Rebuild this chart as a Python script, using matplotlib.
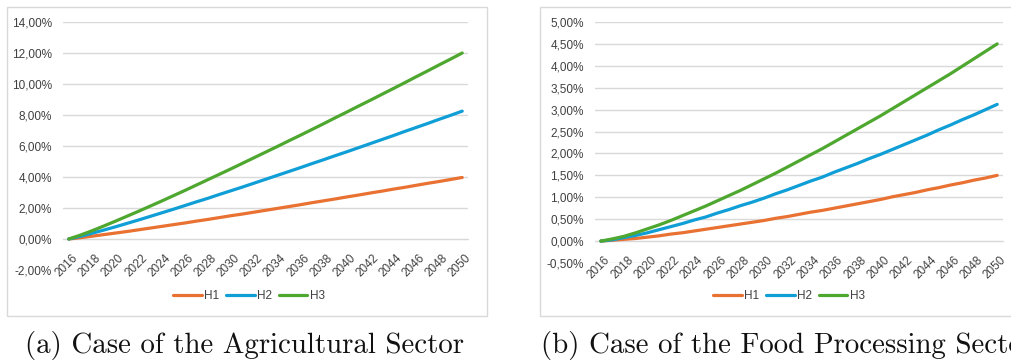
import matplotlib
matplotlib.use("Agg")
import matplotlib.pyplot as plt
import matplotlib.transforms as mtransforms
from matplotlib.patches import Rectangle
from matplotlib.ticker import FuncFormatter

years = list(range(2016, 2051))

# Agricultural sector (percent)
agri_h1 = [0.00, 0.08, 0.18, 0.28, 0.38, 0.48, 0.59, 0.70, 0.81, 0.92, 1.03, 1.15, 1.26, 1.38, 1.50,
           1.61, 1.73, 1.85, 1.97, 2.09, 2.21, 2.34, 2.46, 2.58, 2.71, 2.83, 2.96, 3.08, 3.21, 3.33,
           3.46, 3.59, 3.71, 3.84, 3.97]
agri_h2 = [0.00, 0.17, 0.37, 0.57, 0.78, 1.00, 1.22, 1.45, 1.68, 1.91, 2.15, 2.39, 2.62, 2.87, 3.11,
           3.35, 3.60, 3.85, 4.10, 4.35, 4.60, 4.86, 5.11, 5.37, 5.62, 5.88, 6.14, 6.40, 6.66, 6.93,
           7.19, 7.45, 7.72, 7.98, 8.25]
agri_h3 = [0.00, 0.25, 0.53, 0.83, 1.14, 1.46, 1.78, 2.11, 2.44, 2.78, 3.12, 3.47, 3.82, 4.17, 4.52,
           4.88, 5.24, 5.60, 5.96, 6.33, 6.69, 7.06, 7.43, 7.81, 8.18, 8.56, 8.93, 9.31, 9.69, 10.07,
           10.46, 10.84, 11.23, 11.61, 12.00]

# Food processing sector (percent)
food_h1 = [0.00, 0.02, 0.04, 0.06, 0.09, 0.12, 0.16, 0.19, 0.23, 0.27, 0.31, 0.35, 0.39, 0.43, 0.47,
           0.52, 0.56, 0.61, 0.66, 0.70, 0.75, 0.80, 0.85, 0.90, 0.95, 1.01, 1.06, 1.11, 1.17, 1.22,
           1.28, 1.33, 1.39, 1.44, 1.50]
food_h2 = [0.00, 0.03, 0.08, 0.13, 0.19, 0.26, 0.33, 0.40, 0.48, 0.55, 0.64, 0.72, 0.81, 0.89, 0.98,
           1.08, 1.17, 1.27, 1.37, 1.46, 1.57, 1.67, 1.77, 1.88, 1.98, 2.09, 2.20, 2.31, 2.42, 2.54,
           2.65, 2.77, 2.88, 3.00, 3.12]
food_h3 = [0.00, 0.05, 0.11, 0.19, 0.28, 0.37, 0.47, 0.58, 0.69, 0.80, 0.92, 1.04, 1.16, 1.29, 1.42,
           1.55, 1.69, 1.83, 1.97, 2.11, 2.26, 2.41, 2.56, 2.71, 2.86, 3.02, 3.18, 3.34, 3.50, 3.66,
           3.82, 3.99, 4.16, 4.33, 4.50]

series_names = ["H1", "H2", "H3"]
colors = ["#E97132", "#0F9ED5", "#4EA72E"]
grid_col = "#D9D9D9"
text_col = "#404040"
tick_font = ["Liberation Sans", "DejaVu Sans"]

W, H = 1011, 362
fig = plt.figure(figsize=(W / 100, H / 100), dpi=100)


def px_axes(x0, y0, x1, y1):
    # pixel box (top-left origin) -> figure axes
    return fig.add_axes([x0 / W, 1 - y1 / H, (x1 - x0) / W, (y1 - y0) / H])


def pct(v, _):
    return f"{v:.2f}%".replace(".", ",")


def draw_chart(frame, plot_box, data, ylim, ystep, legend_x, caption, cap_x):
    fig.patches.append(Rectangle((frame[0] / W, 1 - frame[3] / H),
                                 (frame[2] - frame[0]) / W, (frame[3] - frame[1]) / H,
                                 transform=fig.transFigure, facecolor="white",
                                 edgecolor=grid_col, linewidth=1.0, zorder=-5))
    ax = px_axes(*plot_box)
    ax.set_facecolor("none")
    # category axis sits on the zero line (set before ticks, it resets them)
    ax.spines["bottom"].set_position(("data", 0))
    ax.spines["bottom"].set_color(grid_col)
    for s in ["top", "right", "left"]:
        ax.spines[s].set_visible(False)

    for vals, c, name in zip(data, colors, series_names):
        ax.plot(years, vals, color=c, lw=2.3, solid_capstyle="round", label=name, zorder=3)

    ax.set_xlim(years[0] - 0.5, years[-1] + 0.5)
    ax.set_ylim(*ylim)
    n = int(round((ylim[1] - ylim[0]) / ystep))
    ax.set_yticks([ylim[0] + i * ystep for i in range(n + 1)])
    ax.yaxis.set_major_formatter(FuncFormatter(pct))
    ax.grid(axis="y", color=grid_col, lw=1.0, zorder=0)
    ax.tick_params(axis="y", length=0, pad=8, labelsize=8.5, labelcolor=text_col)
    for lab in ax.get_yticklabels():
        lab.set_family(tick_font)

    ax.set_xticks(years[::2])
    ax.set_xticklabels([str(y) for y in years[::2]], rotation=45, ha="right",
                       va="top", rotation_mode="anchor", family=tick_font)
    ax.tick_params(axis="x", length=0, pad=9.5, labelsize=8.5, labelcolor=text_col)
    shift = mtransforms.ScaledTranslation(3 / 100, 0, fig.dpi_scale_trans)
    for lab in ax.get_xticklabels():
        lab.set_transform(lab.get_transform() + shift)

    leg = fig.legend(*ax.get_legend_handles_labels(), loc="center",
                     bbox_to_anchor=(legend_x / W, 1 - 296 / H), ncol=3, frameon=False,
                     handlelength=2.4, handletextpad=0.2, columnspacing=0.6,
                     prop={"family": tick_font, "size": 8.5})
    for t in leg.get_texts():
        t.set_color(text_col)

    fig.text(cap_x / W, 1 - 345 / H, caption, family="cmr10", fontsize=20.8,
             ha="left", va="center", color="#111111")


draw_chart((7, 7, 487, 316), (63, 22, 468, 270), [agri_h1, agri_h2, agri_h3],
           (-2, 14), 2, 249, "(a) Case of the Agricultural Sector", 25)
draw_chart((540, 7, 1040, 316), (595, 22, 1003, 263), [food_h1, food_h2, food_h3],
           (-0.5, 5), 0.5, 789, "(b) Case of the Food Processing Sector", 541)

fig.savefig("out.png", dpi=100, facecolor="white")
